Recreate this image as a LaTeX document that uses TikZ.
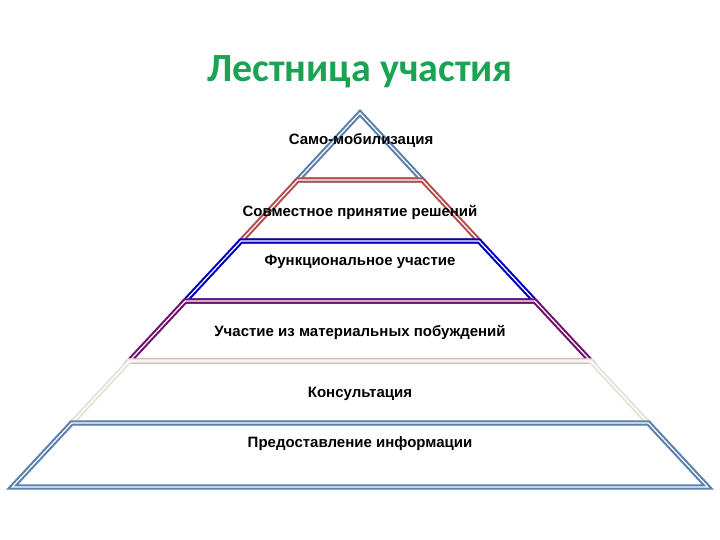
\documentclass[tikz,border=0pt]{standalone}
\usepackage{fontspec}
\setmainfont{Liberation Sans}
\newfontfamily\titlefont{Carlito}
\definecolor{cTop}{HTML}{5B80AC}
\definecolor{cRed}{HTML}{B3504E}
\definecolor{cBlue}{HTML}{0000C0}
\definecolor{cPurple}{HTML}{701070}
\definecolor{cBeige}{HTML}{E6E4D6}
\definecolor{cBot}{HTML}{5B80AC}
\definecolor{cTitle}{HTML}{1BA354}
\tikzset{
  layer/.style={double=white, line width=2.1pt, double distance=1.2pt, draw=#1},
  lbl/.style={font=\bfseries\fontsize{15}{17}\selectfont, text=black, inner sep=1pt},
}
\begin{document}
\begin{tikzpicture}[x=1pt,y=-1pt]
\useasboundingbox (0,0) rectangle (720,540);
% half width h(y)=0.93*(y-113), centre x=360
\draw[layer=cTop] (360,113) -- (422.3,180) -- (297.7,180) -- cycle;
\draw[layer=cRed] (297.7,180) -- (422.3,180) -- (479,241) -- (241,241) -- cycle;
\draw[layer=cBlue] (241,241) -- (479,241) -- (534.8,301) -- (185.2,301) -- cycle;
\draw[layer=cPurple] (185.2,301) -- (534.8,301) -- (590.6,361) -- (129.4,361) -- cycle;
\draw[layer=cBeige] (129.4,361) -- (590.6,361) -- (648.3,423) -- (71.7,423) -- cycle;
\draw[layer=cBot] (71.7,423) -- (648.3,423) -- (707.8,487) -- (12.2,487) -- cycle;
\node[font=\titlefont\bfseries\fontsize{40}{46}\selectfont, text=cTitle] (title) at (360,72) {Лестница участия};
\node[lbl] (l1) at (361,140) {Само-мобилизация};
\node[lbl] (l2) at (360,212) {Совместное принятие решений};
\node[lbl] (l3) at (360,262) {Функциональное участие};
\node[lbl] (l4) at (360,332) {Участие из материальных побуждений};
\node[lbl] (l5) at (360,394) {Консультация};
\node[lbl] (l6) at (360,444) {Предоставление информации};
\end{tikzpicture}
\end{document}
